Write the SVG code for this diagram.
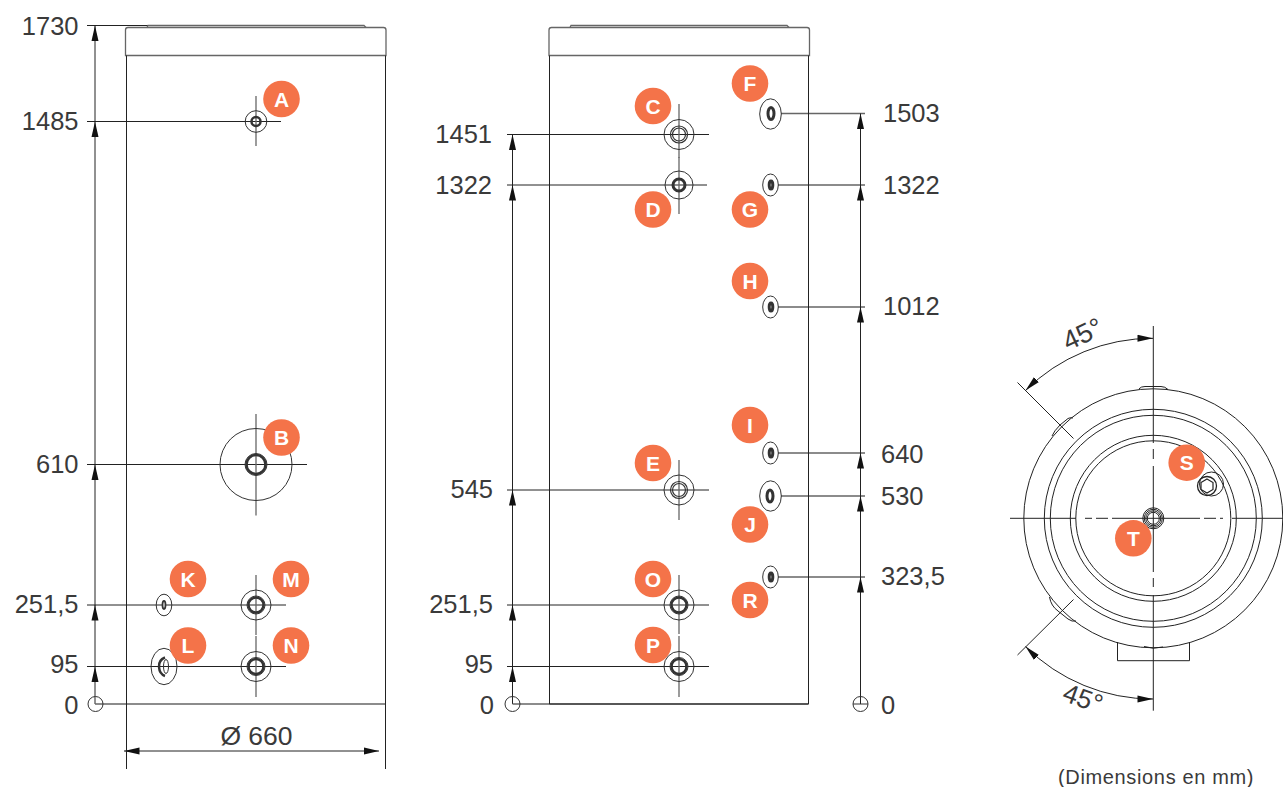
<svg xmlns="http://www.w3.org/2000/svg" width="1283" height="787" viewBox="0 0 1283 787">
<style>
text{font-family:"Liberation Sans",Arial,sans-serif;fill:#3a3a3a}
.d{font-size:25.5px}
.e{text-anchor:end}
.b{fill:#f47349}
.bt{font-size:21px;font-weight:700;fill:#fff;text-anchor:middle}
.l{fill:none;stroke:#222;stroke-width:1}
.g{fill:none;stroke:#666;stroke-width:1.3}
.t{fill:none;stroke:#333;stroke-width:1}
.r{fill:none;stroke:#333;stroke-width:2.500}
.h{fill:#fff;stroke:#333;stroke-width:3}
.a{marker-end:url(#arr)}
.s{marker-start:url(#arr2);marker-end:url(#arr)}
</style>
<defs>
<marker id="arr" markerUnits="userSpaceOnUse" markerWidth="16" markerHeight="8" refX="15.5" refY="4" orient="auto"><path d="M0,0.5L15.5,4L0,7.5z" fill="#111"/></marker>
<marker id="arr2" markerUnits="userSpaceOnUse" markerWidth="16" markerHeight="8" refX="0.5" refY="4" orient="auto"><path d="M16,0.5L0.5,4L16,7.5z" fill="#111"/></marker>
</defs>
<rect width="1283" height="787" fill="#fff"/>

<g id="connectors">
<!-- left view -->
<path class="l" d="M87,25.500H148M87,121.500H281M87,464.500H307M87,605H286M87,666.500H286"/>
<path class="l a" d="M95,122V25.500"/><path class="l a" d="M95,465V121.500"/><path class="l a" d="M95,605.500V464.500"/><path class="l a" d="M95,667V605"/><path class="l a" d="M95,704V666.500"/>
<path class="g" d="M95,704H385.500"/>
<path class="l s" d="M124,751H379"/>
<!-- middle view -->
<path class="l" d="M507,134.500H709M507,185H707M507,490H709M507,605H709M507,666.500H709"/>
<path class="l a" d="M512.500,186V134.500"/><path class="l a" d="M512.500,491V185"/><path class="l a" d="M512.500,606V490"/><path class="l a" d="M512.500,667V605"/><path class="l a" d="M512.500,704V666.500"/>
<path class="g" d="M512.500,704H808.500"/>
<!-- right dims -->
<path class="g" d="M781,113.500H865M778,185H865M778,307H865M778,453H865M781,496H865M778,577H865"/>
<path class="l a" d="M860.500,186V113.500"/><path class="l a" d="M860.500,308V185"/><path class="l a" d="M860.500,454V307"/><path class="l a" d="M860.500,497V453"/><path class="l a" d="M860.500,578V496"/><path class="l a" d="M860.500,704V577"/>
<!-- zero circles -->
<g class="t"><circle cx="95.500" cy="704" r="7.500"/>
<circle cx="512.500" cy="704" r="7.500"/>
<circle cx="860.500" cy="704" r="7.500"/><path d="M853,704H868"/></g>
<!-- plan view dims -->
<path class="l" d="M1017.500,382.500L1073.500,438.500M1017.500,655L1073.500,599.500"/>
<path class="l s" d="M1025.500,390.500A180,180 0 0 1 1153,338.300"/>
<path class="l s" d="M1025.500,646.500A180,180 0 0 0 1153,699"/>
</g>

<g id="tank-left">
<path class="g" d="M125.500,55.500V30Q125.500,27.500 128,27.500H383.500Q386,27.500 386,30V55.500Z"/>
<path class="g" d="M147,27.500L148,25.500H364L366,27.500"/>
<path class="l" d="M126.500,55.500V769M385.500,55.500V769"/>
</g>
<g id="tank-middle">
<path class="g" d="M549,55.500V30Q549,27.500 551.500,27.500H807Q809.500,27.500 809.500,30V55.500Z"/>
<path class="g" d="M570,27.500L571,25.500H787L789,27.500"/>
<path class="l" d="M549.500,55.500V704H808.500V55.500"/>
</g>

<g id="plan-view">
<g class="l">
<circle cx="1153.300" cy="518.300" r="129.500"/>
<circle cx="1153.300" cy="518.300" r="109"/>
<circle cx="1153.300" cy="518.300" r="103"/>
<circle cx="1153.300" cy="518.300" r="83"/>
<circle cx="1153.300" cy="518.300" r="77.500"/>
<path d="M1117.500,642V660.700H1189.500V642"/>
<path d="M1139,388.800Q1141,386.500 1145,386.500H1161Q1165,386.500 1168,389.500M1144,646.500Q1153,649.500 1163,647"/>
<path d="M1052,436Q1054,431 1060,425L1068,418.500Q1071,417 1073,418M1049.500,597Q1051,606 1058,611L1068,619Q1072,622 1076,621"/>
<path d="M1153.300,326V443M1153.300,449V459M1153.300,466V572M1153.300,578V587M1153.300,595V710.700"/>
<path d="M1010,518.300H1076M1085,518.300H1092M1096,518.300H1108M1112,518.300H1200M1204,518.300H1216M1220,518.300H1223M1232,518.300H1283"/>
<circle cx="1211.500" cy="484" r="12"/>
<circle cx="1207" cy="486" r="9.500" style="stroke-width:1.300"/>
<path d="M1207,479L1213,482.500V489.500L1207,493L1201,489.500V482.500Z" style="stroke-width:1.200"/>
<circle cx="1153.300" cy="518.300" r="10.500"/>
<circle cx="1153.300" cy="518.300" r="9"/>
<circle cx="1153.300" cy="518.300" r="7.500"/>
<circle cx="1153.300" cy="518.300" r="6"/>
</g>
</g>

<g id="node-A"><path class="g" d="M256,96V146"/><circle cx="256" cy="121.500" r="10.800" class="t"/><circle cx="256" cy="121.500" r="4.500" class="r"/><circle class="b" cx="281.500" cy="99" r="18.300"/><text class="bt" x="281.500" y="106.500">A</text></g>
<g id="node-B"><path class="g" d="M256,414V515.500"/><circle cx="256" cy="464.500" r="36" class="t"/><circle cx="256" cy="464.500" r="9.500" class="r"/><circle cx="256" cy="464.500" r="11" class="t"/><circle class="b" cx="281.500" cy="437.500" r="18.300"/><text class="bt" x="281.500" y="445">B</text></g>
<g id="node-K"><ellipse cx="164" cy="605" rx="7.800" ry="10.800" class="t"/><ellipse cx="164" cy="605" rx="1.500" ry="4" class="h" style="stroke-width:1.800"/><circle class="b" cx="188" cy="579" r="18.300"/><text class="bt" x="188" y="586.500">K</text></g>
<g id="node-L"><ellipse cx="164" cy="666.500" rx="13" ry="18.200" class="t"/><ellipse cx="166" cy="666.500" rx="2.500" ry="7" class="t"/><path d="M165,657.500Q158.500,660 159,667Q159.500,674 165,676" fill="none" stroke="#333" stroke-width="2.500"/><circle class="b" cx="188" cy="645.500" r="18.300"/><text class="bt" x="188" y="653">L</text></g>
<g id="node-M"><path class="g" d="M256,575V635"/><circle cx="256" cy="605" r="15" class="t"/><circle cx="256" cy="605" r="7.500" class="r"/><circle cx="256" cy="605" r="9" class="t"/><circle class="b" cx="291" cy="579" r="18.300"/><text class="bt" x="291" y="586.500">M</text></g>
<g id="node-N"><path class="g" d="M256,636V697"/><circle cx="256" cy="666.500" r="15" class="t"/><circle cx="256" cy="666.500" r="7.500" class="r"/><circle cx="256" cy="666.500" r="9" class="t"/><circle class="b" cx="291" cy="645.500" r="18.300"/><text class="bt" x="291" y="653">N</text></g>

<g id="node-C"><path class="g" d="M679,104V158"/><circle cx="679" cy="134.500" r="15" class="t"/><circle cx="679" cy="134.500" r="6.500" class="t" style="stroke-width:1.200"/><circle cx="679" cy="134.500" r="8.500" class="t" style="stroke-width:1.200"/><circle class="b" cx="653" cy="106" r="18.300"/><text class="bt" x="653" y="113.500">C</text></g>
<g id="node-D"><path class="g" d="M679,157V214"/><circle cx="679" cy="185" r="14" class="t"/><circle cx="679" cy="185" r="6" class="r" style="stroke-width:3"/><circle class="b" cx="653" cy="209.500" r="18.300"/><text class="bt" x="653" y="217">D</text></g>
<g id="node-E"><path class="g" d="M679,460V520"/><circle cx="679" cy="490" r="15" class="t"/><circle cx="679" cy="490" r="6.500" class="t" style="stroke-width:1.200"/><circle cx="679" cy="490" r="8.500" class="t" style="stroke-width:1.200"/><circle class="b" cx="653" cy="463" r="18.300"/><text class="bt" x="653" y="470.500">E</text></g>
<g id="node-F"><ellipse cx="770.500" cy="114" rx="10.800" ry="15.200" class="t"/><ellipse cx="771" cy="113.500" rx="3" ry="6" class="h"/><circle class="b" cx="750" cy="83.500" r="18.300"/><text class="bt" x="750" y="91">F</text></g>
<g id="node-G"><ellipse cx="770.500" cy="185" rx="7.800" ry="11" class="t"/><ellipse cx="771" cy="185" rx="1.800" ry="4" class="h"/><circle class="b" cx="750" cy="209.500" r="18.300"/><text class="bt" x="750" y="217">G</text></g>
<g id="node-H"><ellipse cx="770.500" cy="307" rx="7.800" ry="11" class="t"/><ellipse cx="771" cy="307" rx="1.800" ry="4" class="h"/><circle class="b" cx="750" cy="281" r="18.300"/><text class="bt" x="750" y="288.500">H</text></g>
<g id="node-I"><ellipse cx="770.500" cy="453" rx="7.800" ry="11" class="t"/><ellipse cx="771" cy="453" rx="1.800" ry="4" class="h"/><circle class="b" cx="750" cy="425" r="18.300"/><text class="bt" x="750" y="432.500">I</text></g>
<g id="node-J"><ellipse cx="770.500" cy="496" rx="10.800" ry="15.200" class="t"/><ellipse cx="770" cy="496" rx="3" ry="6" class="h"/><circle class="b" cx="750" cy="524.500" r="18.300"/><text class="bt" x="750" y="532">J</text></g>
<g id="node-O"><path class="g" d="M679,575V634"/><circle cx="679" cy="605" r="15" class="t"/><circle cx="679" cy="605" r="7.500" class="r"/><circle cx="679" cy="605" r="9" class="t"/><circle class="b" cx="653" cy="579" r="18.300"/><text class="bt" x="653" y="586.500">O</text></g>
<g id="node-P"><path class="g" d="M679,636V697"/><circle cx="679" cy="666.500" r="15" class="t"/><circle cx="679" cy="666.500" r="7.500" class="r"/><circle cx="679" cy="666.500" r="9" class="t"/><circle class="b" cx="653" cy="645" r="18.300"/><text class="bt" x="653" y="652.500">P</text></g>
<g id="node-R"><ellipse cx="770.500" cy="577" rx="7.800" ry="11" class="t"/><ellipse cx="771" cy="577" rx="1.800" ry="4" class="h"/><circle class="b" cx="750" cy="600" r="18.300"/><text class="bt" x="750" y="607.500">R</text></g>
<g id="node-S"><circle class="b" cx="1186.700" cy="462.700" r="18.300"/><text class="bt" x="1186.700" y="470.200">S</text></g>
<g id="node-T"><circle class="b" cx="1133.300" cy="538.300" r="18.300"/><text class="bt" x="1133.300" y="545.800">T</text></g>

<g id="labels">
<text class="d e" x="78.500" y="35">1730</text>
<text class="d e" x="78.500" y="130">1485</text>
<text class="d e" x="78.500" y="473">610</text>
<text class="d e" x="78.500" y="613">251,5</text>
<text class="d e" x="78.500" y="673">95</text>
<text class="d e" x="78.500" y="714">0</text>
<text class="d" x="256.500" y="745" text-anchor="middle" style="font-size:26.5px">Ø 660</text>
<text class="d e" x="492" y="143">1451</text>
<text class="d e" x="492" y="194">1322</text>
<text class="d e" x="493" y="498">545</text>
<text class="d e" x="493" y="613">251,5</text>
<text class="d e" x="493" y="673">95</text>
<text class="d e" x="494" y="714">0</text>
<text class="d" x="883" y="122">1503</text>
<text class="d" x="883" y="194">1322</text>
<text class="d" x="883" y="315">1012</text>
<text class="d" x="881" y="463">640</text>
<text class="d" x="881" y="505">530</text>
<text class="d" x="881" y="585">323,5</text>
<text class="d" x="881" y="714">0</text>
<text class="d" transform="translate(1068,351) rotate(-25)" style="font-size:27px">45°</text>
<text class="d" transform="translate(1061,700) rotate(20)" style="font-size:26.500px">45°</text>
<text x="1058" y="784" font-size="20" letter-spacing="0.650">(Dimensions en mm)</text>
</g>
</svg>
